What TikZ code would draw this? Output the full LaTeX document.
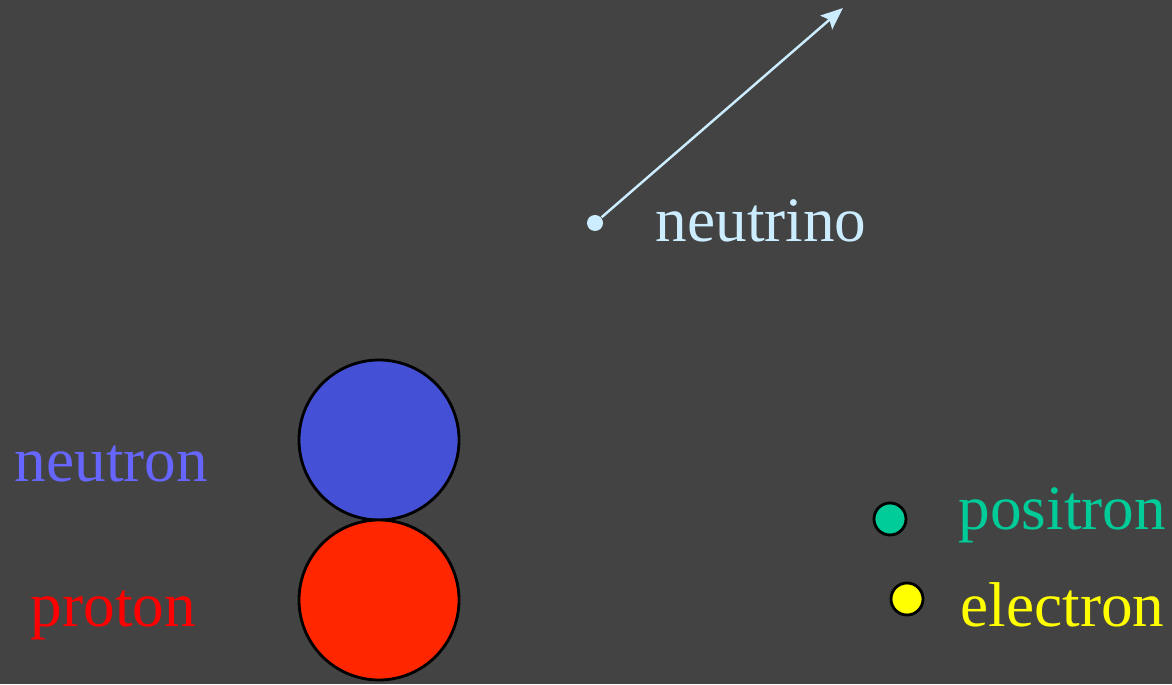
\documentclass[tikz,border=0pt]{standalone}
\usepackage{fontspec}
\setmainfont{Liberation Serif}
\usetikzlibrary{arrows.meta}
\definecolor{bgcol}{HTML}{434343}
\definecolor{neutronfill}{HTML}{4450D6}
\definecolor{neutrontext}{HTML}{6666FF}
\definecolor{protonfill}{HTML}{FF2600}
\definecolor{nucol}{HTML}{CCECFF}
\definecolor{poscol}{HTML}{00CC99}
\definecolor{elcol}{HTML}{FFFF00}
\begin{document}
\begin{tikzpicture}[
    nucleon/.style={circle, draw=black, line width=0.8pt, minimum size=1.6cm, inner sep=0pt},
    lepton/.style={circle, draw=black, line width=0.8pt, minimum size=0.32cm, inner sep=0pt},
    label/.style={anchor=base west, inner sep=0pt, font=\fontsize{18}{20}\selectfont}
  ]
  \fill[bgcol] (0,0) rectangle (11.72,6.84);
  \useasboundingbox (0,0) rectangle (11.72,6.84);

  % Nucleons
  \node[nucleon, fill=neutronfill] (neutron) at (3.79,2.44) {};
  \node[nucleon, fill=protonfill] (proton) at (3.79,0.84) {};
  \node[label, text=neutrontext] (neutronlbl) at (0.14,2.02) {neutron};
  \node[label, text=red] (protonlbl) at (0.30,0.58) {proton};

  % Neutrino
  \node[circle, fill=nucol, minimum size=0.16cm, inner sep=0pt] (nu) at (5.95,4.61) {};
  \coordinate (nutip) at (8.43,6.76);
  \draw[nucol, line width=0.7pt, -{Stealth[length=2.2mm, width=1.8mm, inset=0.4mm]}] (nu) -- (nutip);
  \node[label, text=nucol] (nulbl) at (6.55,4.42) {neutrino};

  % Positron and electron
  \node[lepton, fill=poscol] (positron) at (8.90,1.65) {};
  \node[label, text=poscol] (poslbl) at (9.58,1.54) {positron};
  \node[lepton, fill=elcol] (electron) at (9.07,0.85) {};
  \node[label, text=elcol] (ellbl) at (9.60,0.57) {electron};
\end{tikzpicture}
\end{document}
